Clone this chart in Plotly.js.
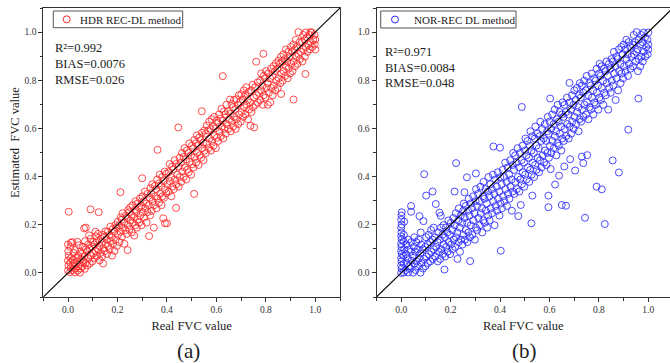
<!DOCTYPE html>
<html>
<head>
<meta charset="utf-8">
<script src="https://cdn.plot.ly/plotly-3.0.1.min.js"></script>
<style>html,body{margin:0;padding:0;background:#fff}#chart{width:670px;height:363px}</style>
</head>
<body>
<div id="chart"></div>
<script>
// ---- data ----
const tickValues = [0, 0.2, 0.4, 0.6, 0.8, 1.0];
const minorTickValues = [-0.1, 0.1, 0.3, 0.5, 0.7, 0.9, 1.1];
const oneToOne = [-0.1, 1.1];
const panelLabels = ['(a)', '(b)'];
const seriesNames = ['HDR REC-DL method', 'NOR-REC DL method'];
const axisTitles = ['Real FVC value', 'Estimated\u00A0 FVC value'];
const statsHDR = ['R\u00B2=0.992', 'BIAS=0.0076', 'RMSE=0.026'];
const statsNOR = ['R\u00B2=0.971', 'BIAS=0.0084', 'RMSE=0.048'];

// [real FVC, estimated FVC]
const hdrPoints = [
[0.000,0.010],[0.002,0.032],[0.000,0.052],[0.003,0.071],[0.001,0.090],[0.000,0.118],[0.008,0.003],[0.011,0.021],[0.009,0.043],[0.012,0.062],[0.010,0.108],[0.018,0.012],[0.021,0.030],[0.019,0.054],[0.022,0.083],[0.017,0.128],[0.028,0.002],[0.031,0.019],[0.027,0.041],[0.033,0.063],[0.029,0.097],[0.039,0.009],[0.042,0.028],[0.038,0.049],[0.041,0.072],[0.044,0.115],[0.048,0.001],[0.052,0.018],[0.047,0.038],[0.053,0.058],[0.049,0.088],
[0.003,0.254],[0.012,0.125],[0.038,0.129],
[0.058,0.028],[0.062,0.049],[0.057,0.081],[0.061,0.108],[0.068,0.017],[0.071,0.041],[0.066,0.069],[0.072,0.098],[0.069,0.132],[0.078,0.031],[0.082,0.058],[0.077,0.089],[0.081,0.118],[0.088,0.039],[0.092,0.072],[0.087,0.102],[0.091,0.141],[0.098,0.048],[0.102,0.081],[0.097,0.109],[0.101,0.128],
[0.065,0.185],[0.072,0.188],[0.091,0.264],[0.085,0.156],
[0.108,0.062],[0.112,0.091],[0.107,0.118],[0.113,0.152],[0.118,0.071],[0.122,0.098],[0.117,0.131],[0.121,0.162],[0.128,0.052],[0.132,0.083],[0.127,0.112],[0.133,0.142],[0.138,0.069],[0.142,0.101],[0.137,0.128],[0.141,0.158],[0.148,0.091],[0.152,0.119],[0.147,0.151],[0.151,0.172],
[0.124,0.252],[0.142,0.039],[0.111,0.171],
[0.158,0.079],[0.162,0.112],[0.157,0.139],[0.161,0.171],[0.168,0.098],[0.172,0.131],[0.167,0.158],[0.171,0.192],[0.178,0.072],[0.182,0.121],[0.177,0.149],[0.181,0.182],[0.188,0.091],[0.192,0.138],[0.187,0.171],[0.191,0.198],[0.198,0.112],[0.202,0.158],[0.197,0.188],[0.201,0.212],
[0.208,0.128],[0.212,0.171],[0.207,0.198],[0.213,0.231],[0.218,0.151],[0.222,0.188],[0.217,0.221],[0.221,0.248],[0.228,0.121],[0.232,0.178],[0.227,0.209],[0.233,0.238],[0.241,0.095],[0.238,0.162],[0.242,0.198],[0.237,0.229],[0.243,0.261],[0.248,0.181],[0.252,0.218],[0.247,0.252],[0.251,0.272],
[0.212,0.335],
[0.258,0.168],[0.262,0.208],[0.257,0.241],[0.261,0.281],[0.268,0.155],[0.272,0.198],[0.267,0.231],[0.271,0.262],[0.273,0.298],[0.278,0.188],[0.282,0.221],[0.277,0.252],[0.281,0.288],[0.288,0.209],[0.292,0.238],[0.287,0.271],[0.291,0.309],[0.298,0.198],[0.302,0.251],[0.297,0.279],[0.301,0.318],
[0.308,0.231],[0.312,0.268],[0.307,0.298],[0.311,0.338],[0.318,0.209],[0.322,0.252],[0.317,0.288],[0.321,0.328],[0.328,0.153],[0.332,0.239],[0.327,0.281],[0.331,0.312],[0.333,0.352],[0.338,0.258],[0.342,0.298],[0.337,0.331],[0.341,0.368],[0.347,0.188],[0.348,0.281],[0.352,0.318],[0.351,0.361],
[0.300,0.393],
[0.358,0.268],[0.362,0.309],[0.357,0.348],[0.361,0.388],[0.368,0.291],[0.372,0.329],[0.367,0.371],[0.371,0.408],[0.378,0.281],[0.382,0.318],[0.377,0.361],[0.381,0.398],[0.385,0.227],[0.388,0.312],[0.392,0.348],[0.387,0.381],[0.391,0.421],[0.392,0.206],[0.400,0.206],[0.398,0.331],[0.402,0.368],[0.397,0.412],
[0.362,0.511],
[0.408,0.338],[0.412,0.381],[0.407,0.418],[0.411,0.452],[0.418,0.318],[0.422,0.358],[0.417,0.398],[0.421,0.441],[0.428,0.348],[0.432,0.388],[0.427,0.431],[0.431,0.468],[0.437,0.270],[0.438,0.368],[0.442,0.408],[0.437,0.452],[0.448,0.358],[0.452,0.398],[0.447,0.441],[0.451,0.478],
[0.446,0.604],
[0.458,0.378],[0.462,0.421],[0.457,0.458],[0.461,0.498],[0.468,0.398],[0.472,0.438],[0.467,0.481],[0.471,0.518],[0.478,0.388],[0.482,0.428],[0.477,0.471],[0.481,0.508],[0.488,0.418],[0.492,0.461],[0.487,0.498],[0.491,0.538],[0.498,0.408],[0.502,0.451],[0.497,0.488],[0.501,0.528],[0.510,0.328],
[0.508,0.438],[0.512,0.481],[0.507,0.518],[0.511,0.552],[0.518,0.458],[0.522,0.498],[0.517,0.538],[0.521,0.571],[0.528,0.448],[0.532,0.488],[0.527,0.531],[0.531,0.562],[0.538,0.478],[0.542,0.518],[0.537,0.551],[0.541,0.582],[0.541,0.671],[0.548,0.468],[0.552,0.508],[0.547,0.541],[0.551,0.591],
[0.558,0.498],[0.562,0.538],[0.557,0.578],[0.561,0.612],[0.568,0.518],[0.572,0.558],[0.567,0.591],[0.571,0.628],[0.578,0.508],[0.582,0.548],[0.577,0.598],[0.581,0.638],[0.588,0.528],[0.592,0.568],[0.587,0.608],[0.591,0.648],[0.598,0.518],[0.602,0.561],[0.597,0.601],[0.601,0.632],
[0.608,0.548],[0.612,0.588],[0.607,0.622],[0.611,0.658],[0.618,0.568],[0.622,0.608],[0.617,0.641],[0.621,0.681],[0.626,0.817],[0.628,0.558],[0.632,0.598],[0.627,0.631],[0.631,0.671],[0.638,0.578],[0.642,0.618],[0.637,0.658],[0.641,0.698],[0.648,0.598],[0.652,0.638],[0.647,0.671],[0.655,0.720],
[0.658,0.588],[0.662,0.628],[0.657,0.661],[0.661,0.701],[0.668,0.608],[0.672,0.648],[0.667,0.688],[0.671,0.718],[0.678,0.598],[0.682,0.638],[0.677,0.681],[0.681,0.721],[0.688,0.618],[0.692,0.658],[0.687,0.698],[0.691,0.738],[0.698,0.628],[0.702,0.668],[0.697,0.708],[0.701,0.742],
[0.708,0.648],[0.712,0.688],[0.707,0.721],[0.711,0.758],[0.718,0.658],[0.722,0.698],[0.717,0.738],[0.721,0.771],[0.728,0.638],[0.732,0.678],[0.727,0.718],[0.731,0.751],[0.738,0.611],[0.742,0.668],[0.737,0.708],[0.741,0.758],[0.753,0.604],[0.748,0.688],[0.752,0.728],[0.747,0.781],
[0.758,0.698],[0.762,0.738],[0.757,0.771],[0.761,0.877],[0.768,0.708],[0.772,0.748],[0.767,0.791],[0.778,0.718],[0.782,0.758],[0.777,0.798],[0.781,0.828],[0.788,0.698],[0.792,0.738],[0.787,0.778],[0.791,0.818],[0.790,0.910],[0.798,0.728],[0.802,0.768],[0.797,0.808],[0.801,0.838],
[0.808,0.698],[0.812,0.748],[0.807,0.788],[0.811,0.828],[0.818,0.708],[0.822,0.768],[0.817,0.808],[0.821,0.848],[0.828,0.738],[0.832,0.778],[0.827,0.818],[0.831,0.858],[0.838,0.758],[0.842,0.798],[0.837,0.838],[0.841,0.871],[0.848,0.768],[0.852,0.808],[0.847,0.848],[0.851,0.881],[0.862,0.743],
[0.858,0.788],[0.862,0.828],[0.857,0.868],[0.861,0.898],[0.868,0.798],[0.872,0.838],[0.867,0.878],[0.871,0.908],[0.878,0.818],[0.882,0.858],[0.877,0.888],[0.881,0.928],[0.888,0.808],[0.892,0.848],[0.887,0.878],[0.891,0.918],[0.898,0.828],[0.902,0.868],[0.897,0.898],[0.901,0.938],
[0.908,0.838],[0.912,0.878],[0.907,0.918],[0.911,0.948],[0.912,0.720],[0.918,0.858],[0.922,0.898],[0.917,0.928],[0.921,0.968],[0.928,0.868],[0.932,0.908],[0.927,0.938],[0.932,1.000],[0.938,0.888],[0.942,0.918],[0.937,0.958],[0.948,0.878],[0.952,0.928],[0.947,0.958],[0.951,0.988],
[0.960,0.826],[0.958,0.898],[0.962,0.938],[0.957,0.968],[0.961,0.998],[0.968,0.918],[0.972,0.948],[0.967,0.978],[0.978,0.928],[0.982,0.958],[0.977,0.988],[0.981,1.000],[0.988,0.938],[0.992,0.968],[0.987,0.998],[0.998,0.948],[1.000,0.968],[0.997,0.988],[1.000,0.928]
];

const norPoints = [
[0.000,0.000],[0.002,0.018],[0.000,0.031],[0.001,0.048],[0.000,0.062],[0.002,0.079],[0.000,0.092],[0.001,0.108],[0.000,0.121],[0.002,0.139],[0.000,0.152],[0.001,0.168],[0.000,0.188],[0.002,0.201],[0.000,0.221],[0.001,0.238],[0.002,0.252],
[0.010,0.002],[0.011,0.038],[0.009,0.071],[0.012,0.098],[0.010,0.131],[0.011,0.158],[0.012,0.213],
[0.018,0.011],[0.022,0.041],[0.019,0.078],[0.021,0.118],[0.028,0.002],[0.031,0.028],[0.027,0.061],[0.032,0.098],[0.029,0.138],[0.038,0.018],[0.042,0.051],[0.039,0.088],[0.041,0.128],[0.048,0.001],[0.052,0.038],[0.047,0.071],[0.051,0.108],[0.053,0.148],
[0.040,0.278],[0.040,0.254],
[0.058,0.012],[0.062,0.048],[0.057,0.088],[0.061,0.128],[0.068,0.028],[0.072,0.061],[0.067,0.098],[0.071,0.138],[0.074,0.236],[0.078,0.001],[0.082,0.041],[0.077,0.081],[0.081,0.118],[0.079,0.168],[0.088,0.018],[0.092,0.058],[0.087,0.098],[0.090,0.215],[0.093,0.410],[0.098,0.028],[0.102,0.068],[0.097,0.108],[0.101,0.148],[0.101,0.321],
[0.108,0.041],[0.112,0.078],[0.107,0.118],[0.111,0.158],[0.118,0.048],[0.122,0.088],[0.117,0.128],[0.121,0.178],[0.127,0.338],[0.128,0.058],[0.132,0.098],[0.127,0.138],[0.131,0.188],[0.138,0.068],[0.142,0.108],[0.137,0.148],[0.140,0.286],[0.148,0.048],[0.152,0.088],[0.147,0.128],[0.151,0.168],[0.155,0.250],[0.160,0.237],
[0.158,0.058],[0.162,0.098],[0.157,0.138],[0.161,0.188],[0.168,0.078],[0.172,0.118],[0.167,0.158],[0.171,0.198],[0.175,0.014],[0.178,0.068],[0.182,0.108],[0.177,0.148],[0.181,0.188],[0.188,0.088],[0.192,0.128],[0.187,0.168],[0.191,0.218],[0.198,0.078],[0.202,0.118],[0.197,0.158],[0.201,0.208],
[0.208,0.098],[0.212,0.138],[0.207,0.178],[0.211,0.228],[0.216,0.338],[0.218,0.108],[0.222,0.148],[0.217,0.198],[0.221,0.248],[0.222,0.456],[0.228,0.058],[0.232,0.128],[0.227,0.168],[0.231,0.218],[0.233,0.268],[0.238,0.088],[0.242,0.138],[0.237,0.188],[0.241,0.238],[0.248,0.118],[0.252,0.158],[0.247,0.208],[0.251,0.258],[0.253,0.288],
[0.256,0.335],[0.258,0.138],[0.262,0.178],[0.257,0.228],[0.261,0.278],[0.266,0.397],[0.268,0.128],[0.272,0.168],[0.267,0.208],[0.271,0.258],[0.273,0.308],[0.279,0.049],[0.278,0.148],[0.282,0.198],[0.277,0.238],[0.281,0.288],[0.288,0.158],[0.292,0.218],[0.287,0.268],[0.291,0.318],[0.298,0.138],[0.302,0.188],[0.297,0.248],[0.301,0.298],[0.303,0.348],[0.302,0.413],
[0.308,0.178],[0.312,0.228],[0.307,0.278],[0.311,0.328],[0.318,0.198],[0.322,0.248],[0.317,0.298],[0.321,0.358],[0.328,0.168],[0.332,0.218],[0.327,0.268],[0.331,0.318],[0.333,0.378],[0.338,0.208],[0.342,0.258],[0.337,0.308],[0.341,0.348],[0.348,0.188],[0.352,0.238],[0.347,0.288],[0.351,0.338],[0.353,0.398],
[0.358,0.218],[0.362,0.268],[0.357,0.318],[0.361,0.368],[0.368,0.248],[0.372,0.298],[0.367,0.348],[0.371,0.408],[0.378,0.198],[0.382,0.278],[0.377,0.328],[0.381,0.388],[0.388,0.258],[0.392,0.308],[0.387,0.358],[0.391,0.418],[0.398,0.238],[0.402,0.288],[0.397,0.338],[0.401,0.398],[0.403,0.092],
[0.373,0.525],[0.400,0.520],[0.408,0.268],[0.412,0.318],[0.407,0.368],[0.411,0.428],[0.418,0.298],[0.422,0.348],[0.417,0.398],[0.421,0.458],[0.428,0.278],[0.432,0.328],[0.427,0.378],[0.431,0.438],[0.438,0.308],[0.442,0.358],[0.437,0.408],[0.441,0.468],[0.448,0.258],[0.452,0.338],[0.447,0.388],[0.451,0.448],[0.453,0.498],
[0.458,0.328],[0.462,0.378],[0.457,0.428],[0.461,0.488],[0.468,0.348],[0.472,0.398],[0.467,0.458],[0.471,0.518],[0.474,0.236],[0.478,0.338],[0.482,0.388],[0.477,0.438],[0.481,0.498],[0.484,0.282],[0.488,0.689],[0.488,0.368],[0.492,0.418],[0.487,0.468],[0.491,0.528],[0.498,0.358],[0.502,0.408],[0.497,0.458],[0.501,0.508],[0.503,0.558],
[0.508,0.388],[0.512,0.438],[0.507,0.488],[0.511,0.548],[0.518,0.378],[0.522,0.428],[0.517,0.478],[0.521,0.528],[0.523,0.588],[0.527,0.206],[0.531,0.321],[0.528,0.408],[0.532,0.458],[0.527,0.508],[0.531,0.568],[0.538,0.398],[0.542,0.448],[0.537,0.498],[0.541,0.558],[0.543,0.608],[0.548,0.428],[0.552,0.478],[0.547,0.528],[0.551,0.578],
[0.558,0.418],[0.562,0.468],[0.557,0.518],[0.561,0.568],[0.563,0.628],[0.568,0.438],[0.572,0.488],[0.567,0.548],[0.571,0.598],[0.578,0.458],[0.582,0.508],[0.577,0.558],[0.581,0.618],[0.588,0.448],[0.592,0.498],[0.587,0.548],[0.591,0.588],[0.593,0.648],[0.596,0.321],[0.596,0.273],[0.598,0.478],[0.602,0.528],[0.597,0.578],[0.601,0.628],
[0.603,0.724],[0.605,0.431],[0.608,0.498],[0.612,0.548],[0.607,0.598],[0.611,0.658],[0.618,0.518],[0.622,0.568],[0.617,0.618],[0.621,0.678],[0.623,0.367],[0.628,0.488],[0.632,0.538],[0.627,0.588],[0.631,0.638],[0.633,0.698],[0.639,0.404],[0.638,0.528],[0.642,0.578],[0.637,0.628],[0.641,0.668],[0.650,0.282],[0.648,0.508],[0.652,0.558],[0.647,0.608],[0.651,0.658],[0.653,0.708],
[0.660,0.442],[0.658,0.548],[0.662,0.598],[0.657,0.648],[0.661,0.698],[0.667,0.279],[0.668,0.568],[0.672,0.618],[0.667,0.668],[0.671,0.728],[0.684,0.472],[0.678,0.558],[0.682,0.608],[0.677,0.658],[0.681,0.708],[0.681,0.789],[0.688,0.578],[0.692,0.628],[0.687,0.678],[0.691,0.738],[0.698,0.598],[0.702,0.648],[0.697,0.698],[0.701,0.758],
[0.704,0.425],[0.708,0.618],[0.712,0.668],[0.707,0.718],[0.711,0.768],[0.718,0.588],[0.722,0.638],[0.717,0.688],[0.721,0.738],[0.723,0.788],[0.728,0.628],[0.732,0.678],[0.727,0.728],[0.731,0.778],[0.731,0.483],[0.737,0.456],[0.738,0.648],[0.742,0.698],[0.737,0.748],[0.741,0.798],[0.744,0.229],[0.748,0.658],[0.752,0.708],[0.747,0.758],[0.751,0.818],[0.753,0.489],
[0.758,0.638],[0.762,0.688],[0.757,0.738],[0.761,0.788],[0.768,0.678],[0.772,0.728],[0.767,0.778],[0.771,0.828],[0.778,0.658],[0.782,0.708],[0.777,0.758],[0.781,0.808],[0.788,0.698],[0.792,0.748],[0.787,0.798],[0.791,0.848],[0.791,0.358],[0.798,0.678],[0.802,0.728],[0.797,0.778],[0.801,0.828],[0.803,0.868],
[0.812,0.347],[0.808,0.718],[0.812,0.768],[0.807,0.818],[0.811,0.858],[0.818,0.698],[0.822,0.748],[0.817,0.798],[0.821,0.848],[0.824,0.203],[0.828,0.738],[0.832,0.788],[0.827,0.838],[0.831,0.878],[0.838,0.678],[0.842,0.768],[0.837,0.818],[0.841,0.868],[0.848,0.748],[0.852,0.798],[0.847,0.848],[0.851,0.888],
[0.856,0.467],[0.858,0.778],[0.862,0.828],[0.857,0.878],[0.861,0.918],[0.868,0.718],[0.872,0.808],[0.867,0.858],[0.871,0.898],[0.878,0.758],[0.882,0.838],[0.877,0.888],[0.881,0.928],[0.881,0.417],[0.888,0.788],[0.892,0.828],[0.887,0.868],[0.891,0.938],[0.898,0.808],[0.902,0.858],[0.897,0.908],[0.901,0.948],
[0.908,0.838],[0.912,0.888],[0.907,0.928],[0.911,0.968],[0.919,0.595],[0.918,0.818],[0.922,0.868],[0.917,0.908],[0.921,0.958],[0.928,0.848],[0.932,0.898],[0.927,0.938],[0.938,0.858],[0.942,0.908],[0.937,0.948],[0.941,0.988],[0.948,0.878],[0.952,0.918],[0.953,1.000],[0.947,0.958],
[0.960,0.724],[0.958,0.838],[0.962,0.888],[0.957,0.928],[0.961,0.968],[0.968,0.858],[0.972,0.898],[0.967,0.948],[0.971,0.988],[0.978,0.878],[0.982,0.918],[0.977,0.958],[0.981,0.998],[0.988,0.898],[0.992,0.938],[0.987,0.978],[0.998,0.908],[1.000,0.948],[0.997,0.968],[1.000,0.998],[1.000,0.928]
];

// ---- drawing ----
const W = 670, H = 363;
const fx = x => x / W;           // pixel -> paper x
const fy = y => 1 - y / H;       // pixel -> paper y
const FONT = 'Liberation Serif, Times New Roman, serif';
const RED = '#ff2a2a', BLUE = '#2a2aff', AX = '#333333';

function scatter(points, color, xa, ya, name) {
  return {
    type: 'scatter', mode: 'markers', name: name,
    x: points.map(p => p[0]), y: points.map(p => p[1]),
    xaxis: xa, yaxis: ya, showlegend: false, hoverinfo: 'skip',
    marker: {symbol: 'circle-open', size: 7, color: color, line: {width: 0.85, color: color}}
  };
}
function diag(xa, ya) {
  return {type: 'scatter', mode: 'lines', x: oneToOne, y: oneToOne, xaxis: xa, yaxis: ya,
    showlegend: false, hoverinfo: 'skip', line: {color: '#000', width: 1.1}};
}

const data = [
  scatter(hdrPoints, RED, 'x', 'y', seriesNames[0]),
  scatter(norPoints, BLUE, 'x2', 'y2', seriesNames[1]),
  diag('x', 'y'), diag('x2', 'y2')
];

function axis(extra) {
  return Object.assign({
    showline: true, linecolor: AX, linewidth: 1, mirror: true,
    ticks: 'outside', ticklen: 4, tickwidth: 1, tickcolor: AX,
    tickmode: 'array', tickvals: tickValues, tickformat: '.1f',
    tickfont: {family: FONT, size: 9.5, color: AX},
    minor: {tickmode: 'array', tickvals: minorTickValues, ticks: 'outside', ticklen: 2.5, tickcolor: AX, showgrid: false},
    showgrid: false, zeroline: false, fixedrange: true
  }, extra);
}
const yDom = [fy(297), fy(8)];
const titleFont = {family: FONT, size: 12.5, color: '#222'};

const layout = {
  width: W, height: H, margin: {l: 0, r: 0, t: 0, b: 0},
  paper_bgcolor: '#fff', plot_bgcolor: '#fff', showlegend: false,
  font: {family: FONT, color: '#222'},
  xaxis: axis({domain: [fx(43.3), fx(340)], range: [-0.1, 1.1], anchor: 'y',
    title: {text: axisTitles[0], font: titleFont, standoff: 6}}),
  yaxis: axis({domain: yDom, range: [-0.1, 1.1], anchor: 'x'}),
  xaxis2: axis({domain: [fx(376.5), 1], range: [-0.1, 1.088], anchor: 'y2',
    title: {text: axisTitles[0], font: titleFont, standoff: 6}}),
  yaxis2: axis({domain: yDom, range: [-0.1, 1.1], anchor: 'x2'}),
  shapes: [
    {type: 'rect', xref: 'paper', yref: 'paper', x0: fx(53.3), x1: fx(182.7), y0: fy(27.7), y1: fy(11), line: {color: '#555', width: 1}, fillcolor: 'rgba(0,0,0,0)'},
    {type: 'circle', xref: 'paper', yref: 'paper', x0: fx(63.2), x1: fx(70.2), y0: fy(22.8), y1: fy(15.8), line: {color: RED, width: 1}},
    {type: 'rect', xref: 'paper', yref: 'paper', x0: fx(380.7), x1: fx(516), y0: fy(28), y1: fy(11), line: {color: '#555', width: 1}, fillcolor: 'rgba(0,0,0,0)'},
    {type: 'circle', xref: 'paper', yref: 'paper', x0: fx(391.5), x1: fx(398.5), y0: fy(23), y1: fy(16), line: {color: BLUE, width: 1}}
  ],
  annotations: []
};

function ann(text, x, y, size, opts) {
  layout.annotations.push(Object.assign({
    text: text, xref: 'paper', yref: 'paper', x: fx(x), y: fy(y),
    xanchor: 'center', yanchor: 'middle', showarrow: false,
    font: {family: FONT, size: size, color: '#222'}
  }, opts || {}));
}
// y-axis title (placed where the reference has it)
ann(axisTitles[1], 14.5, 142.5, 12.5, {textangle: -90});
// legends
ann(seriesNames[0], 78.3, 19.5, 11, {xanchor: 'left'});
ann(seriesNames[1], 411.7, 19.8, 11, {xanchor: 'left'});
// statistics
[48.3, 63.6, 80].forEach((y, i) => ann(statsHDR[i], 53.3, y, 12.5, {xanchor: 'left'}));
[51.7, 67.7, 83.3].forEach((y, i) => ann(statsNOR[i], 383.3, y, 12.5, {xanchor: 'left'}));
// panel labels
ann(panelLabels[0], 188.7, 351, 21);
ann(panelLabels[1], 524, 351, 21);

Plotly.newPlot('chart', data, layout, {staticPlot: true, displayModeBar: false});
</script>
</body>
</html>
